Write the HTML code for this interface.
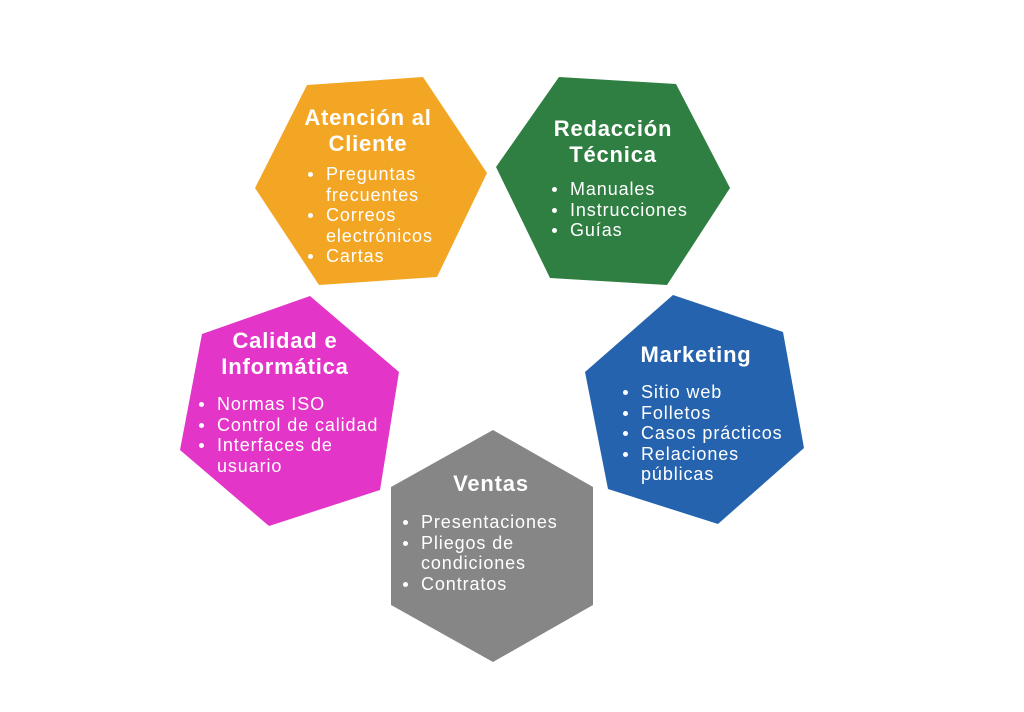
<!DOCTYPE html>
<html><head><meta charset="utf-8"><style>
body{margin:0;width:1024px;height:712px;background:#fff;position:relative;overflow:hidden;font-family:"Liberation Sans",sans-serif;color:#fff}
svg{position:absolute;left:0;top:0}
.t{position:absolute;font-weight:bold;font-size:22px;line-height:26px;text-align:center;white-space:nowrap;letter-spacing:0.8px}
.l{position:absolute;font-size:18px;line-height:20.5px;white-space:nowrap;letter-spacing:0.9px}
.l div{position:relative;padding-left:18px}
.l div:before{content:"";position:absolute;left:0;top:8px;width:5px;height:5px;border-radius:50%;background:#fff}
</style></head><body>
<svg width="1024" height="712">
<polygon points="307,85 423,77 487,173 437,277 319,285 255,188" fill="#f3a624"/>
<polygon points="559,77 676,84 730,188 667,285 550,278 496,167" fill="#2f7f42"/>
<polygon points="202,334 310,296 399,372 380,490 269,526 180,450" fill="#e335c8"/>
<polygon points="493,430 593,487 593,605 493,662 391,605 391,487" fill="#868686"/>
<polygon points="673,295 783,332 804,448 718,524 608,489 585,372" fill="#2563ae"/>
</svg>
<div class="t" style="left:288px;width:160px;top:105px">Atención al<br>Cliente</div>
<div class="l" style="left:308px;top:164px"><div>Preguntas<br>frecuentes</div><div>Correos<br>electrónicos</div><div>Cartas</div></div>
<div class="t" style="left:533px;width:160px;top:116px">Redacción<br>Técnica</div>
<div class="l" style="left:552px;top:179px"><div>Manuales</div><div>Instrucciones</div><div>Guías</div></div>
<div class="t" style="left:205px;width:160px;top:328px">Calidad e<br>Informática</div>
<div class="l" style="left:199px;top:394px"><div>Normas ISO</div><div>Control de calidad</div><div>Interfaces de<br>usuario</div></div>
<div class="t" style="left:616px;width:160px;top:342px">Marketing</div>
<div class="l" style="left:623px;top:382px"><div>Sitio web</div><div>Folletos</div><div>Casos prácticos</div><div>Relaciones<br>públicas</div></div>
<div class="t" style="left:411px;width:160px;top:471px">Ventas</div>
<div class="l" style="left:403px;top:512px"><div>Presentaciones</div><div>Pliegos de<br>condiciones</div><div>Contratos</div></div>
</body></html>
